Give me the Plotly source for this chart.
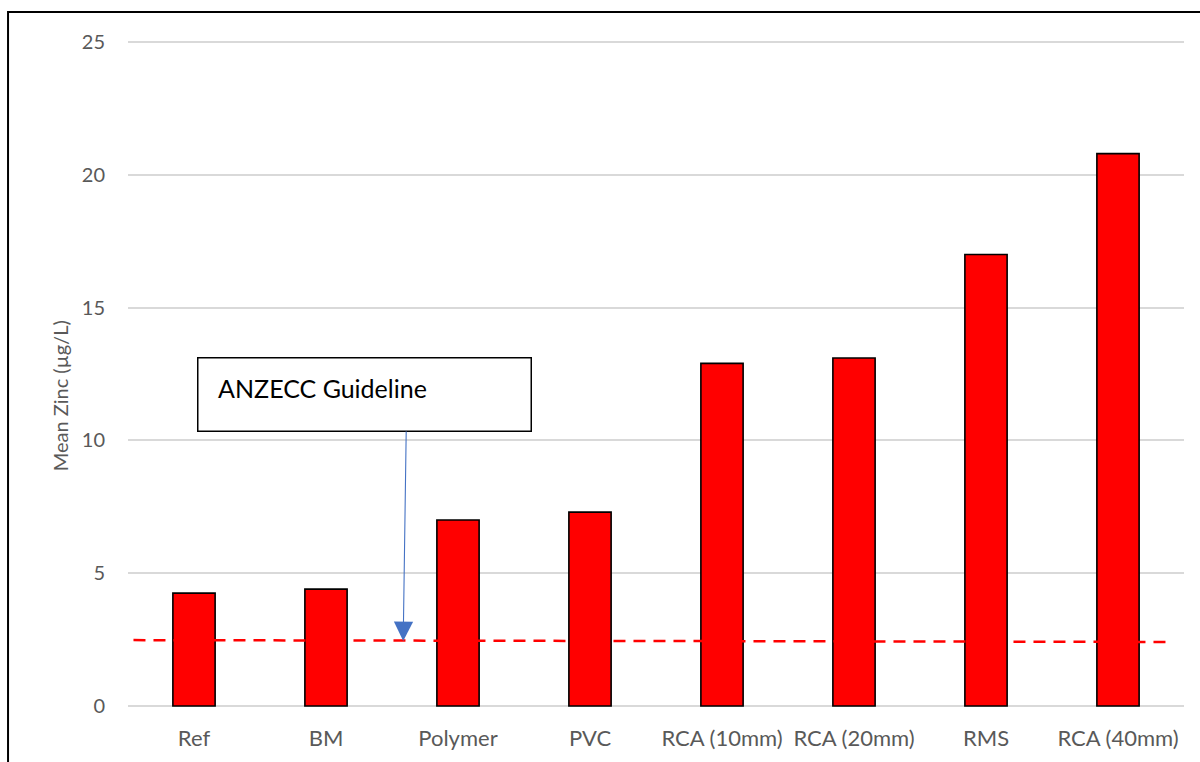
import plotly.graph_objects as go

kategorier = ["Ref", "BM", "Polymer", "PVC", "RCA (10mm)", "RCA (20mm)", "RMS", "RCA (40mm)"]
mean_zinc = [4.25, 4.4, 7.0, 7.3, 12.9, 13.1, 17.0, 20.8]

# guideline line, drawn by hand in the original so it drifts a little
guide_x = [-0.61, 7.39]
guide_y = [2.48, 2.41]

pos = list(range(len(kategorier)))

fig = go.Figure()
fig.add_trace(
    go.Bar(
        x=pos,
        y=mean_zinc,
        width=0.32,
        marker=dict(color="#FF0000", line=dict(color="#000000", width=1.6)),
    )
)
fig.add_trace(
    go.Scatter(
        x=guide_x,
        y=guide_y,
        mode="lines",
        line=dict(color="#FF0000", width=2.5, dash="12px,8px"),
    )
)

grå = "#595959"
font = "Lato"
fig.update_xaxes(
    range=[-0.5, 7.5],
    tickvals=pos,
    ticktext=kategorier,
    showgrid=False,
    zeroline=False,
    showline=False,
    ticklabelstandoff=16,
    tickfont=dict(family=font, size=22, color=grå),
)
fig.update_yaxes(
    range=[-0.04, 25.04],
    dtick=5,
    showgrid=True,
    gridcolor="#D9D9D9",
    gridwidth=1.5,
    zeroline=True,
    zerolinecolor="#D9D9D9",
    zerolinewidth=1.5,
    ticklabelstandoff=22,
    tickfont=dict(family=font, size=20, color=grå),
)

# y-axis title sits a bit below the middle, as in the original
fig.add_annotation(
    x=-0.0644,
    y=0.468,
    xref="paper",
    yref="paper",
    xanchor="center",
    yanchor="middle",
    text="Mean Zinc (µg/L)",
    textangle=-90,
    showarrow=False,
    font=dict(family=font, size=20, color=grå),
)

# text box
fig.add_annotation(
    x=1.29,
    y=11.73,
    xref="x",
    yref="y",
    text="&nbsp;ANZECC Guideline",
    showarrow=False,
    width=304,
    height=44,
    align="left",
    valign="top",
    borderpad=14,
    bordercolor="#000000",
    borderwidth=1.5,
    bgcolor="#FFFFFF",
    font=dict(family=font, size=25, color="#000000"),
)
# arrow from box to the guideline
fig.add_annotation(
    x=1.585,
    y=2.45,
    xref="x",
    yref="y",
    ax=3,
    ay=-211,
    text="",
    showarrow=True,
    arrowhead=2,
    arrowsize=3.5,
    arrowwidth=1.1,
    arrowcolor="#4472C4",
    standoff=0,
)

# chart border
fig.add_shape(
    type="rect",
    xref="paper",
    yref="paper",
    x0=-0.1136,
    x1=1.05,
    y0=-0.2,
    y1=1.0437,
    line=dict(color="#000000", width=2),
    layer="below",
)

fig.update_layout(
    width=1200,
    height=762,
    margin=dict(l=128, r=16, t=41, b=55),
    plot_bgcolor="#FFFFFF",
    paper_bgcolor="#FFFFFF",
    showlegend=False,
)

fig.write_html(
    "out.html",
    config={"displayModeBar": False},
    post_script="document.body.style.margin='0';",
)
